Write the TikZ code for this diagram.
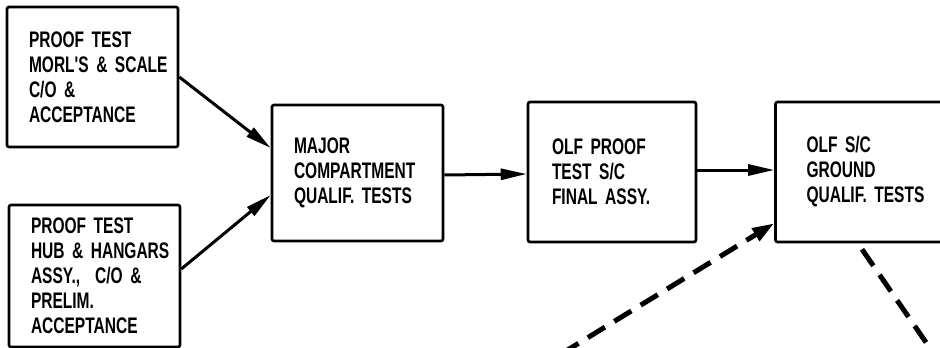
\documentclass[tikz,border=0pt]{standalone}
\usepackage{fontspec}
\usepackage{tikz}
\usetikzlibrary{arrows.meta}
\newfontfamily\boxfont{Liberation Sans}[FakeStretch=0.69]

\tikzset{
	testbox/.style={draw, line width=2.6pt, rounded corners=2pt, align=left,
		font=\boxfont\bfseries\fontsize{22.5}{25}\selectfont,
		inner xsep=22pt, text width=127pt, minimum height=140pt},
	flow/.style={line width=3pt, -{Triangle[length=26pt,width=11pt]}},
	later/.style={line width=5pt, dash pattern=on 20pt off 11pt}
}

\begin{document}
\begin{tikzpicture}[x=1pt,y=-1pt]
			\useasboundingbox (0,0) rectangle (940,348);
			\clip (0,0) rectangle (940,348);
			% test boxes (lines kept whole with ~)
			\node[testbox] (morl) at (92.5,77) {PROOF~TEST\\MORL'S~\&~SCALE\\C/O~\&\\ACCEPTANCE};
			\node[testbox, minimum height=142pt] (hub) at (94.5,276) {PROOF~TEST\\HUB~\&~HANGARS\\ASSY.,~~C/O~\&\\PRELIM.\\ACCEPTANCE};
			\node[testbox, minimum height=136pt] (major) at (357.5,173) {MAJOR\\COMPARTMENT\\QUALIF.~TESTS};
			\node[testbox, text width=120pt, inner xsep=24pt] (olfproof) at (612,172) {OLF~PROOF\\TEST~S/C\\FINAL~ASSY.};
			\node[testbox, inner xsep=31pt, text width=115pt] (olfgnd) at (864,172) {OLF~S/C\\GROUND\\QUALIF.~TESTS};
			\coordinate (lowin) at (535,370);
			\coordinate (lowout) at (945,370);
			\draw[flow] (morl.east) -- ([yshift=25pt]major.west);
			\draw[flow] ([yshift=7pt]hub.east) -- ([yshift=-22pt]major.west);
			\draw[flow] ([yshift=-2pt]major.east) -- ([yshift=-2pt]olfproof.west);
			\draw[flow] ([yshift=2pt]olfproof.east) -- ([yshift=2pt]olfgnd.west);
			\draw[later, -{Triangle[length=22pt,width=14pt]}] (lowin) -- ([yshift=20pt]olfgnd.south west);
			\draw[later] ([yshift=-6pt,xshift=-2pt]olfgnd.south) -- (lowout);
		\end{tikzpicture}
\end{document}
